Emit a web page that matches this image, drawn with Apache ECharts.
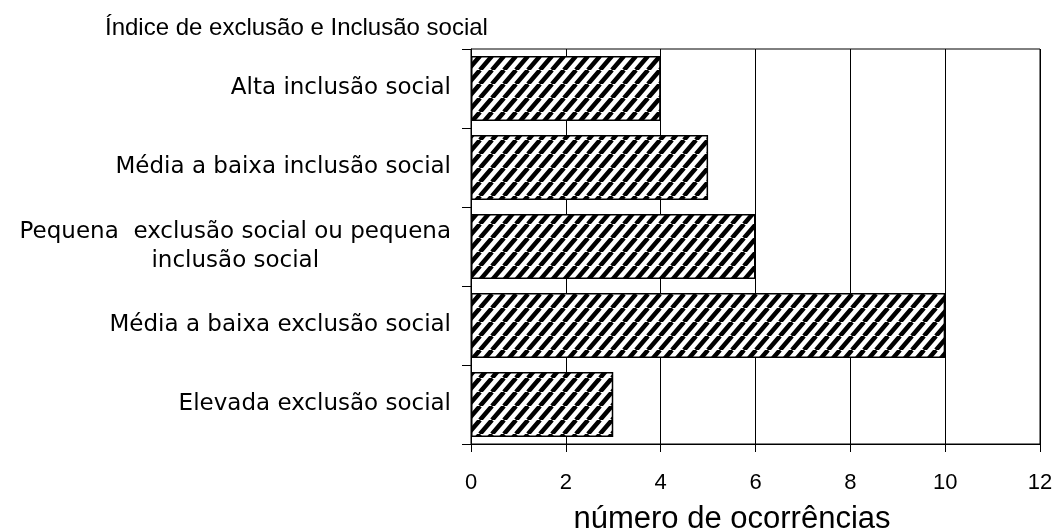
<!DOCTYPE html>
<html>
<head>
<meta charset="utf-8">
<title>Índice de exclusão e Inclusão social</title>
<script src="https://cdn.jsdelivr.net/npm/echarts@6/dist/echarts.min.js"></script>
<style>
  html, body { margin: 0; padding: 0; background: #fff; }
  #chart { width: 1058px; height: 531px; }
</style>
</head>
<body>
<div id="chart"></div>
<script>
// Categories listed bottom to top (category axis runs upward)
const categories = [
  'Elevada exclusão social',
  'Média a baixa exclusão social',
  'Pequena  exclusão social ou pequena\ninclusão social',
  'Média a baixa inclusão social',
  'Alta inclusão social'
];
const occurrences = [3, 10, 6, 5, 4];
const xMin = 0;
const xMax = 12;
const xStep = 2;

// Diagonal "/" hatch tile used as the bar fill
function hatchTile() {
  const w = 12;   // horizontal stripe spacing
  const h = 14;   // vertical stripe spacing (slightly steeper than 45°)
  const c = document.createElement('canvas');
  c.width = w;
  c.height = h;
  const g = c.getContext('2d');
  g.fillStyle = '#ffffff';
  g.fillRect(0, 0, w, h);
  g.strokeStyle = '#000000';
  g.lineWidth = 4.5;
  g.beginPath();
  for (let k = -1; k <= 1; k++) {
    g.moveTo(k * w, h);
    g.lineTo(k * w + w, 0);
  }
  g.stroke();
  return c;
}

const chart = echarts.init(document.getElementById('chart'), null, { renderer: 'canvas' });

const option = {
  animation: false,
  backgroundColor: '#ffffff',
  title: {
    text: 'Índice de exclusão e Inclusão social',
    left: 105,
    top: 16,
    padding: 0,
    textStyle: {
      fontFamily: 'Liberation Sans',
      fontSize: 24,
      fontWeight: 'normal',
      color: '#000'
    }
  },
  grid: {
    left: 471,
    right: 18,
    top: 49,
    bottom: 87,
    show: true,
    borderColor: '#000',
    borderWidth: 1,
    backgroundColor: 'transparent',
    outerBoundsMode: 'none'
  },
  xAxis: {
    type: 'value',
    min: xMin,
    max: xMax,
    interval: xStep,
    name: 'número de ocorrências',
    nameLocation: 'middle',
    nameGap: 60,
    nameTextStyle: {
      fontFamily: 'Liberation Sans',
      fontSize: 31,
      color: '#000',
      padding: [0, 47, 0, 0]
    },
    axisLine: { show: true, lineStyle: { color: '#000', width: 1 } },
    axisTick: { show: true, length: 8, lineStyle: { color: '#000', width: 1 } },
    axisLabel: {
      margin: 28,
      fontFamily: 'Liberation Sans',
      fontSize: 22,
      color: '#000'
    },
    splitLine: { show: true, lineStyle: { color: '#000', width: 1 } }
  },
  yAxis: {
    type: 'category',
    data: categories,
    axisLine: { show: true, lineStyle: { color: '#000', width: 1 } },
    axisTick: { show: true, length: 9, lineStyle: { color: '#000', width: 1 } },
    axisLabel: {
      margin: 20,
      interval: 0,
      formatter: function (v) {
        return v.split('\n').map(function (line) { return '{c|' + line + '}'; }).join('\n');
      },
      rich: {
        c: {
          align: 'center',
          fontFamily: 'DejaVu Sans',
          fontSize: 23,
          lineHeight: 29,
          color: '#000'
        }
      }
    },
    splitLine: { show: false }
  },
  series: [{
    type: 'bar',
    data: occurrences,
    barCategoryGap: '18%',
    itemStyle: {
      color: { image: hatchTile(), repeat: 'repeat' },
      borderColor: '#000',
      borderWidth: 1.5
    }
  }]
};

chart.setOption(option);
</script>
</body>
</html>
